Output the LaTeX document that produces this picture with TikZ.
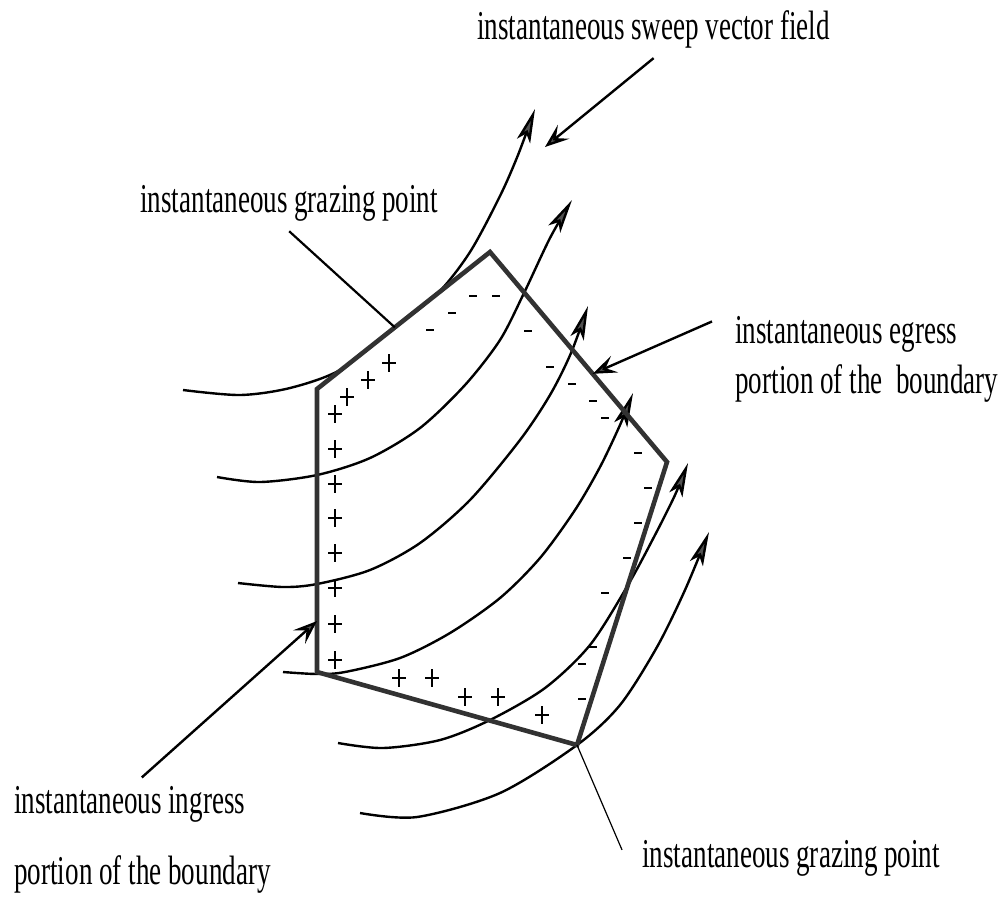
\documentclass[tikz,border=0pt]{standalone}
\usepackage{fontspec}
\setmainfont{Liberation Serif}[FakeStretch=0.66]
\usepackage{tikz}
\usetikzlibrary{arrows.meta,calc}
\definecolor{inkgray}{RGB}{50,50,50}
\colorlet{headgray}{inkgray!85}
\tikzset{
  lbl/.style={font=\fontsize{20.5}{24}\selectfont,inner sep=0pt,anchor=base west},
  bnd/.style={draw=inkgray,line width=2.3pt,line join=miter},
  field/.style={line width=1.2pt,-{Stealth[length=17pt,width=7pt,inset=4pt,fill=headgray]}},
  ptr/.style={line width=1.2pt,-{Stealth[length=12pt,width=9pt,inset=5pt,fill=headgray]}},
  lead/.style={line width=1.1pt},
  sign/.style={line width=0.6pt},
}

\begin{document}
\begin{tikzpicture}[x=0.5pt,y=-0.5pt]
        \useasboundingbox (0,0) rectangle (1000,896);
        \coordinate (p1) at (317,389);
        \coordinate (p2) at (490,252);
        \coordinate (p3) at (667,462);
        \coordinate (p4) at (577,745);
        \coordinate (p5) at (317,672);
        \draw[field] plot[smooth] coordinates {(183,390) (240,395) (290,388) (340,370) (390,331) (437,294) (470,252) (500,196) (518,155) (535,109)};
        \draw[field] plot[smooth] coordinates {(217,477) (260,482) (317,475) (370,458) (420,428) (465,385) (500,340) (524,293) (550,238) (572,200)};
        \draw[field] plot[smooth] coordinates {(238,583) (283,587) (317,584) (370,570) (420,543) (470,500) (520,440) (550,395) (571,353) (588,306)};
        \draw[field] plot[smooth] coordinates {(283,672) (317,674) (345,672) (400,658) (450,633) (500,598) (540,558) (575,510) (600,467) (620,425) (633,393)};
        \draw[field] plot[smooth] coordinates {(338,743) (383,748) (440,740) (490,720) (545,688) (590,645) (628,585) (655,535) (675,495) (688,463)};
        \draw[field] plot[smooth] coordinates {(360,813) (417,817) (500,793) (577,745) (620,705) (657,647) (685,590) (709,532)};
        \draw[bnd] (p1)--(p2)--(p3)--(p4)--(p5)--cycle;
        \foreach \x/\y in {389/363,368/380,347/397,335/414,335/449,335/484,335/518,335/553,335/588,335/624,335/660,
                           399/678,432/678,465/697,498/697,542/715}
          \draw[sign] (\x-7,\y)--(\x+7,\y) (\x,\y-9)--(\x,\y+9);
        \foreach \x/\y in {473/296,496/296,452/313,430/330,528/331,550/367,572/384,593/401,605/418,638/453,
                           648/488,638/523,627/558,605/593,593/647,582/664,582/699}
          \draw[sign,line width=1pt] (\x-4,\y)--(\x+4,\y);
        \node[lbl] (sweep) at (477,39) {instantaneous sweep vector field};
        \node[lbl] (grazeA) at (140,212) {instantaneous grazing point};
        \node[lbl] (egressA) at (735,343) {instantaneous egress};
        \node[lbl] (egressB) at (735,393) {portion of the\ \ boundary};
        \node[lbl] (ingressA) at (14,813) {instantaneous ingress};
        \node[lbl] (ingressB) at (14,884) {portion of the boundary};
        \node[lbl] (grazeB) at (642,867) {instantaneous grazing point};
        \coordinate (swtip) at (545,147);
        \coordinate (grz) at ($(p1)!0.45!(p2)$);
        \coordinate (egtip) at ($(p2)!0.58!(p3)$);
        \coordinate (intip) at ($(p5)!0.18!(p1)$);
        \draw[ptr] ([yshift=-5pt]sweep.south)--(swtip);
        \draw[lead] ([yshift=-5pt]grazeA.south)--(grz);
        \draw[ptr] ([shift={(-23,6)}]egressA.north west)--(egtip);
        \draw[ptr] ([shift={(12,-8)}]ingressA.north)--(intip);
        \draw[lead,line width=0.6pt] (p4)--([shift={(-20,-8)}]grazeB.west);
      \end{tikzpicture}
\end{document}
